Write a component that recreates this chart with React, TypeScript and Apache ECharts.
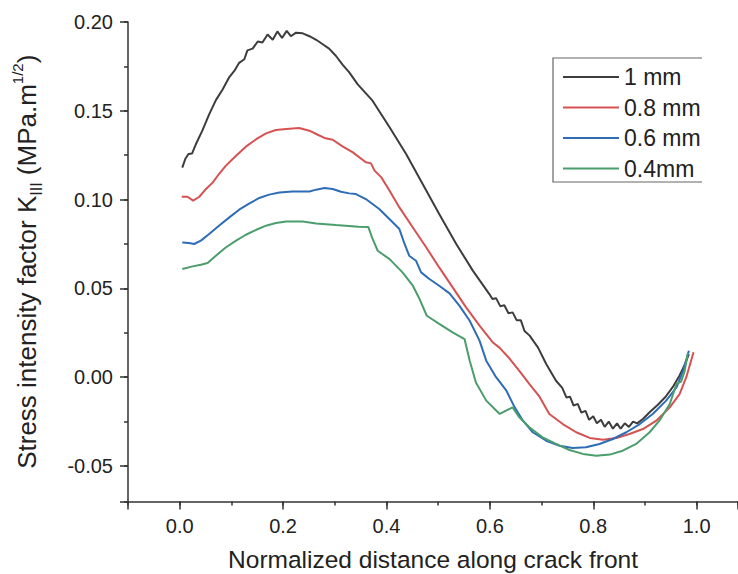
import React, { useEffect, useRef } from 'react';
import * as echarts from 'echarts';

const seriesNames = ['1 mm', '0.8 mm', '0.6 mm', '0.4mm'];
const seriesColors = ['#3d3d3d', '#d65252', '#2e6db6', '#4b9e6c'];

const data1mm: number[][] = [
  [0.005, 0.118], [0.011, 0.123], [0.017, 0.1257], [0.024, 0.126], [0.031, 0.131], [0.044, 0.139],
  [0.057, 0.148], [0.070, 0.156], [0.083, 0.162], [0.096, 0.169], [0.106, 0.1726], [0.115, 0.177],
  [0.125, 0.179], [0.131, 0.184], [0.141, 0.185], [0.151, 0.189], [0.160, 0.1885], [0.170, 0.193],
  [0.180, 0.190], [0.189, 0.1947], [0.198, 0.191], [0.207, 0.195], [0.215, 0.192], [0.225, 0.194],
  [0.238, 0.1936], [0.251, 0.192], [0.264, 0.190], [0.276, 0.1876], [0.289, 0.185], [0.302, 0.181],
  [0.315, 0.176], [0.328, 0.1716], [0.344, 0.165], [0.373, 0.1557], [0.406, 0.1407], [0.438, 0.1257],
  [0.470, 0.1088], [0.502, 0.0919], [0.535, 0.075], [0.567, 0.060], [0.599, 0.0468], [0.605, 0.044],
  [0.612, 0.0445], [0.620, 0.040], [0.628, 0.0405], [0.636, 0.036], [0.644, 0.0365], [0.652, 0.032],
  [0.660, 0.032], [0.667, 0.026], [0.677, 0.0234], [0.685, 0.020], [0.693, 0.0168], [0.709, 0.0074],
  [0.728, -0.002], [0.740, -0.006], [0.748, -0.0114], [0.755, -0.011], [0.762, -0.016], [0.770, -0.015],
  [0.777, -0.020], [0.785, -0.019], [0.792, -0.024], [0.800, -0.022], [0.807, -0.026], [0.815, -0.024],
  [0.822, -0.028], [0.830, -0.025], [0.838, -0.029], [0.846, -0.026], [0.853, -0.029], [0.861, -0.026],
  [0.869, -0.028], [0.877, -0.025], [0.885, -0.026], [0.896, -0.0235], [0.910, -0.0195], [0.925, -0.0155],
  [0.940, -0.011], [0.955, -0.005], [0.967, 0.001], [0.977, 0.007], [0.985, 0.013],
];

const data08mm: number[][] = [
  [0.004, 0.1016], [0.015, 0.1016], [0.026, 0.0994], [0.038, 0.1016], [0.051, 0.106], [0.064, 0.1097],
  [0.076, 0.1144], [0.089, 0.119], [0.109, 0.1247], [0.128, 0.1298], [0.148, 0.134], [0.167, 0.1373],
  [0.186, 0.1392], [0.206, 0.1397], [0.231, 0.1403], [0.251, 0.1388], [0.267, 0.1365], [0.280, 0.1347],
  [0.296, 0.1337], [0.315, 0.130], [0.335, 0.1266], [0.360, 0.121], [0.370, 0.1204], [0.377, 0.1163],
  [0.390, 0.1125], [0.406, 0.105], [0.425, 0.0956], [0.451, 0.0843], [0.477, 0.073], [0.502, 0.0618],
  [0.528, 0.0506], [0.554, 0.0393], [0.580, 0.029], [0.606, 0.0195], [0.619, 0.0165], [0.638, 0.0105],
  [0.657, 0.0035], [0.677, -0.004], [0.696, -0.011], [0.715, -0.0207], [0.741, -0.0264], [0.767, -0.031],
  [0.793, -0.0342], [0.819, -0.0352], [0.845, -0.0342], [0.870, -0.032], [0.896, -0.0292], [0.922, -0.0245],
  [0.948, -0.017], [0.967, -0.0095], [0.980, 0.0], [0.994, 0.014],
];

const data06mm: number[][] = [
  [0.005, 0.0759], [0.018, 0.0756], [0.028, 0.075], [0.041, 0.0769], [0.057, 0.0806], [0.076, 0.0853],
  [0.096, 0.090], [0.115, 0.0943], [0.135, 0.0979], [0.154, 0.1009], [0.173, 0.1028], [0.193, 0.104],
  [0.218, 0.1046], [0.251, 0.1046], [0.264, 0.1056], [0.280, 0.1065], [0.296, 0.106], [0.312, 0.1044],
  [0.328, 0.1035], [0.341, 0.1031], [0.360, 0.1003], [0.386, 0.0947], [0.412, 0.0872], [0.425, 0.0834],
  [0.435, 0.075], [0.444, 0.0684], [0.457, 0.0656], [0.467, 0.059], [0.483, 0.0553], [0.502, 0.0515],
  [0.522, 0.0472], [0.541, 0.0403], [0.561, 0.0318], [0.580, 0.0206], [0.593, 0.0093], [0.612, 0.0],
  [0.632, -0.0076], [0.648, -0.017], [0.664, -0.0245], [0.683, -0.031], [0.709, -0.0358], [0.735, -0.0386],
  [0.760, -0.0399], [0.786, -0.0395], [0.812, -0.0376], [0.838, -0.0348], [0.864, -0.031], [0.890, -0.0264],
  [0.915, -0.0207], [0.941, -0.0132], [0.961, -0.0058], [0.974, 0.0037], [0.985, 0.0149],
];

const data04mm: number[][] = [
  [0.005, 0.0609], [0.025, 0.0624], [0.041, 0.0633], [0.054, 0.0643], [0.070, 0.0684], [0.089, 0.073],
  [0.109, 0.0769], [0.128, 0.0802], [0.148, 0.083], [0.167, 0.0853], [0.186, 0.0868], [0.206, 0.0876],
  [0.238, 0.0876], [0.264, 0.0866], [0.302, 0.0857], [0.346, 0.0847], [0.365, 0.0845], [0.372, 0.0787],
  [0.383, 0.0712], [0.406, 0.0665], [0.431, 0.059], [0.451, 0.0515], [0.464, 0.044], [0.478, 0.0346],
  [0.502, 0.030], [0.528, 0.0252], [0.551, 0.0215], [0.561, 0.0093], [0.573, -0.003], [0.593, -0.0132],
  [0.619, -0.0207], [0.644, -0.017], [0.657, -0.0226], [0.677, -0.0283], [0.702, -0.0339], [0.728, -0.0376],
  [0.754, -0.041], [0.780, -0.0432], [0.806, -0.0442], [0.832, -0.0436], [0.857, -0.0414], [0.883, -0.0376],
  [0.909, -0.031], [0.928, -0.0245], [0.948, -0.0151], [0.961, -0.0038], [0.970, -0.0025], [0.977, 0.0037],
  [0.983, 0.0137],
];

const allData = [data1mm, data08mm, data06mm, data04mm];

const xTitle = 'Normalized distance along crack front';
const yTitle = '{a|Stress intensity factor K}{sub|III}{a| (MPa.m}{sup|1/2}{a|)}';

const FONT = '"Liberation Sans", Arial, sans-serif';
const AXIS = '#333333';
const TEXT = '#222222';

const isMultiple = (v: number, step: number) => Math.abs(v / step - Math.round(v / step)) < 1e-6;

export default function App() {
  const ref = useRef<HTMLDivElement>(null);
  useEffect(() => {
    if (!ref.current) return;
    const chart = echarts.init(ref.current, undefined, { renderer: 'svg' });
    const option: any = {
      animation: false,
      backgroundColor: '#ffffff',
      grid: { left: 128, right: 0, top: 22, bottom: 72.5, containLabel: false, outerBoundsMode: 'none' },
      legend: {
        orient: 'vertical',
        left: 557,
        top: 60,
        itemWidth: 56,
        itemHeight: 24,
        itemGap: 6.5,
        data: seriesNames,
        itemStyle: { opacity: 0, borderWidth: 0 },
        lineStyle: { width: 2 },
        textStyle: { fontSize: 23, color: TEXT, fontFamily: FONT, lineHeight: 24 },
        selectedMode: false,
      },
      graphic: [
        {
          type: 'polyline',
          shape: { points: [[702, 58], [553, 58], [553, 182], [702, 182]] },
          style: { stroke: '#666666', lineWidth: 1.2, fill: null },
          silent: true,
        },
      ],
      xAxis: [
        {
          type: 'value',
          min: -0.1,
          max: 1.08,
          position: 'bottom',
          splitNumber: 6,
          minInterval: 0.2,
          maxInterval: 0.2,
          axisLine: { show: true, onZero: false, lineStyle: { color: AXIS, width: 1.5 } },
          axisTick: { show: true, inside: false, length: 8, lineStyle: { color: AXIS, width: 1.5 } },
          axisLabel: {
            fontSize: 20,
            color: TEXT,
            margin: 14,
            fontFamily: FONT,
            formatter: (v: number) => (isMultiple(v, 0.2) ? v.toFixed(1) : ''),
          },
          splitLine: { show: false },
          name: xTitle,
          nameLocation: 'middle',
          nameGap: 45,
          nameTextStyle: { fontSize: 24.5, color: TEXT, fontFamily: FONT },
        },
        {
          type: 'value',
          min: -0.1,
          max: 1.08,
          interval: 0.1,
          position: 'bottom',
          axisLine: { show: false, onZero: false },
          axisTick: { show: true, inside: false, length: 4, lineStyle: { color: AXIS, width: 1.5 } },
          axisLabel: { show: false },
          splitLine: { show: false },
        },
      ],
      yAxis: [
        {
          type: 'value',
          min: -0.07,
          max: 0.2,
          position: 'left',
          splitNumber: 6,
          minInterval: 0.05,
          maxInterval: 0.05,
          axisLine: { show: true, onZero: false, lineStyle: { color: AXIS, width: 1.5 } },
          axisTick: { show: true, inside: false, length: 8, lineStyle: { color: AXIS, width: 1.5 } },
          axisLabel: {
            fontSize: 20,
            color: TEXT,
            margin: 15,
            fontFamily: FONT,
            formatter: (v: number) => (isMultiple(v, 0.05) ? v.toFixed(2) : ''),
          },
          splitLine: { show: false },
          name: yTitle,
          nameLocation: 'middle',
          nameRotate: 90,
          nameGap: 84,
          nameTextStyle: {
            color: TEXT,
            fontFamily: FONT,
            rich: {
              a: { fontSize: 26, lineHeight: 34, color: TEXT, fontFamily: FONT, verticalAlign: 'middle' },
              sub: { fontSize: 16, lineHeight: 16, color: TEXT, fontFamily: FONT, verticalAlign: 'bottom' },
              sup: { fontSize: 15, lineHeight: 15, color: TEXT, fontFamily: FONT, verticalAlign: 'top' },
            },
          },
        },
        {
          type: 'value',
          min: -0.07,
          max: 0.2,
          position: 'left',
          splitNumber: 11,
          minInterval: 0.025,
          maxInterval: 0.025,
          axisLine: { show: false, onZero: false },
          axisTick: { show: true, inside: false, length: 4, lineStyle: { color: AXIS, width: 1.5 } },
          axisLabel: { show: false },
          splitLine: { show: false },
        },
      ],
      series: allData.map((d, i) => ({
        name: seriesNames[i],
        type: 'line',
        xAxisIndex: 0,
        yAxisIndex: 0,
        data: d,
        symbol: 'none',
        showSymbol: false,
        smooth: false,
        lineStyle: { color: seriesColors[i], width: 2 },
        itemStyle: { color: seriesColors[i] },
      })),
    };
    chart.setOption(option);
    return () => chart.dispose();
  }, []);
  return (
    <div
      ref={ref}
      style={{ position: 'absolute', left: 0, top: 0, width: 738, height: 574, background: '#fff' }}
    />
  );
}
